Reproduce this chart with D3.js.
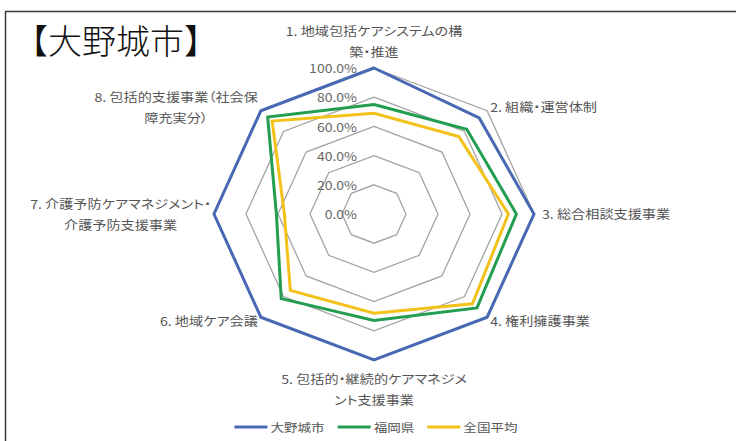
<!DOCTYPE html>
<html>
<head>
<meta charset="utf-8">
<script src="https://cdn.jsdelivr.net/npm/d3@7"></script>
<style>
  html, body { margin: 0; padding: 0; background: #fff; }
  svg { display: block; }
  text { font-family: "Noto Sans CJK JP", "Noto Sans", sans-serif; }
  .cat { font-feature-settings: "palt"; }
</style>
</head>
<body>
<svg id="chart" width="736" height="441"></svg>
<script>
// ---- data ----
const categories = [
  ["1. 地域包括ケアシステムの構", "築・推進"],
  ["2. 組織・運営体制"],
  ["3. 総合相談支援事業"],
  ["4. 権利擁護事業"],
  ["5. 包括的・継続的ケアマネジメ", "ント支援事業"],
  ["6. 地域ケア会議"],
  ["7. 介護予防ケアマネジメント・", "介護予防支援事業"],
  ["8. 包括的支援事業（社会保", "障充実分）"]
];
const seriesNames = ["大野城市", "福岡県", "全国平均"];
const onojoValues = [100, 93, 100, 100, 100, 100, 100, 100];
const fukuokaValues = [75, 82, 89, 91, 73, 82, 61, 94];
const nationalValues = [69, 75, 84, 87, 68, 74, 56, 90];
const tickValues = [0, 20, 40, 60, 80, 100];
const tickLabels = ["0.0%", "20.0%", "40.0%", "60.0%", "80.0%", "100.0%"];
const titleText = "【大野城市】";

// ---- layout ----
const svg = d3.select("#chart");
const W = 736, H = 441;
const cx = 374, cy = 214, R = 146;
const xStretch = 160 / 146;      // plot area is wider than tall
const textStretch = 1.18;        // glyphs drawn slightly wide
const colors = ["#4868b3", "#239e50", "#f3c21a"];
const series = [onojoValues, fukuokaValues, nationalValues];

const r = d3.scaleLinear().domain([0, 100]).range([0, R]);
const angle = d3.scaleLinear().domain([0, categories.length]).range([0, 2 * Math.PI]);
const pt = (i, v) => {
  const a = angle(i);
  return [cx + xStretch * r(v) * Math.sin(a), cy - r(v) * Math.cos(a)];
};
const ring = d3.line().curve(d3.curveLinearClosed);

// frame
svg.append("rect")
  .attr("x", 5.5).attr("y", 11.5)
  .attr("width", W + 20).attr("height", H + 20)
  .attr("fill", "none").attr("stroke", "#3a3a3a").attr("stroke-width", 1.5);

// title
svg.append("text")
  .attr("x", 14).attr("y", 54)
  .attr("font-size", 34).attr("font-weight", 300).attr("fill", "#111")
  .text(titleText);

// grid rings
const plot = svg.append("g");
plot.selectAll("path.grid")
  .data(tickValues.filter(v => v > 0))
  .join("path")
  .attr("class", "grid")
  .attr("d", v => ring(categories.map((c, i) => pt(i, v))))
  .attr("fill", "none").attr("stroke", "#a3a3a3").attr("stroke-width", 1.3);

// tick labels
plot.selectAll("g.tick")
  .data(tickValues)
  .join("g")
  .attr("class", "tick")
  .attr("transform", v => `translate(${cx - 17},${cy - r(v)}) scale(1.15,1)`)
  .append("text")
  .attr("text-anchor", "end")
  .attr("dominant-baseline", "central")
  .attr("font-family", "DejaVu Sans, sans-serif")
  .attr("font-size", 12.2)
  .attr("fill", "#666")
  .text((v, k) => tickLabels[k]);

// series
series.forEach((vals, s) => {
  plot.append("path")
    .attr("d", ring(vals.map((v, i) => pt(i, v))))
    .attr("fill", "none")
    .attr("stroke", colors[s])
    .attr("stroke-width", 3)
    .attr("stroke-linejoin", "miter");
});

// category labels
const lh = 21;
categories.forEach((lines, i) => {
  const a = angle(i);
  const [px, py] = pt(i, 100);
  const s = Math.sin(a), c = Math.cos(a);
  const n = lines.length;
  const g = svg.append("g");
  const inner = g.append("g").attr("transform", `scale(${textStretch},1)`);
  const texts = lines.map((t, k) => inner.append("text")
    .attr("class", "cat")
    .attr("y", (k - (n - 1) / 2) * lh)
    .attr("dominant-baseline", "central")
    .attr("font-size", 12)
    .attr("fill", "#555")
    .text(t));
  const wMax = d3.max(texts, t => t.node().getComputedTextLength());
  let ax, ay;
  if (Math.abs(s) < 0.01) {
    texts.forEach(t => t.attr("text-anchor", "middle"));
    ax = px;
    ay = c > 0 ? py - 16 - (n - 1) * lh / 2 : py + 19 + (n - 1) * lh / 2;
  } else if (s > 0) {
    texts.forEach(t => t.attr("text-anchor", "start"));
    ax = px + (Math.abs(c) < 0.01 ? 8 : 3);
    ay = py - 5 * c;
  } else {
    texts.forEach(t => t.attr("text-anchor", "middle").attr("x", -wMax / 2));
    ax = px - 3;
    ay = py - 5 * c;
  }
  g.attr("transform", `translate(${ax},${ay})`);
});

// legend
const legend = svg.append("g");
const items = seriesNames.map((name, s) => {
  const it = legend.append("g");
  it.append("line").attr("x1", 0).attr("x2", 33).attr("y1", 0).attr("y2", 0)
    .attr("stroke", colors[s]).attr("stroke-width", 3);
  const t = it.append("g").attr("transform", `translate(36,0) scale(${textStretch},1)`)
    .append("text")
    .attr("dominant-baseline", "central")
    .attr("font-size", 11.5).attr("fill", "#555")
    .text(name);
  return { it, w: 36 + t.node().getComputedTextLength() * textStretch };
});
const gap = 13;
const total = d3.sum(items, d => d.w) + gap * (items.length - 1);
let lx = 376 - total / 2;
items.forEach(d => {
  d.it.attr("transform", `translate(${lx},427)`);
  lx += d.w + gap;
});
</script>
</body>
</html>
